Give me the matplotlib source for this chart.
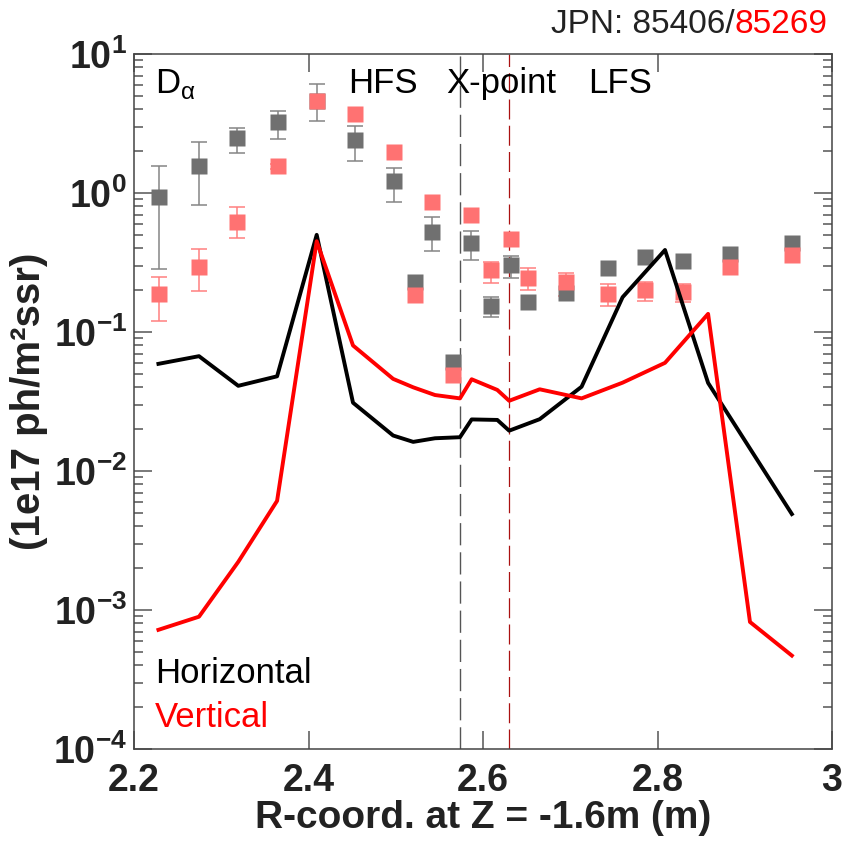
import numpy as np
import matplotlib
matplotlib.use('Agg')
import matplotlib.pyplot as plt
from matplotlib.ticker import FixedLocator, LogLocator, NullFormatter, FixedFormatter

plt.rcParams['font.family'] = ['Liberation Sans', 'DejaVu Sans']
plt.rcParams['mathtext.fontset'] = 'custom'
plt.rcParams['mathtext.rm'] = 'Liberation Sans'
plt.rcParams['mathtext.bf'] = 'Liberation Sans:bold'

# Synthetic D-alpha profiles (lines)
r_line = [2.228, 2.2745, 2.3195, 2.364, 2.4094, 2.451, 2.497, 2.520, 2.545,
          2.5736, 2.587, 2.6164, 2.630, 2.665, 2.713, 2.760, 2.8086, 2.858,
          2.906, 2.954]
horizontal = [0.059, 0.067, 0.041, 0.048, 0.50, 0.031, 0.018, 0.0162, 0.0172,
              0.0175, 0.0235, 0.0233, 0.0195, 0.0236, 0.0404, 0.178, 0.389,
              0.043, 0.0145, 0.0049]
vertical = [0.00072, 0.000895, 0.00222, 0.0061, 0.45, 0.080, 0.046, 0.040,
            0.0352, 0.0333, 0.0457, 0.0383, 0.032, 0.0387, 0.0333, 0.0432,
            0.060, 0.135, 0.00082, 0.00047]

# Measured points
r_pts = [2.229, 2.2745, 2.318, 2.365, 2.410, 2.453, 2.498, 2.522, 2.541, 2.566,
         2.586, 2.609, 2.632, 2.652, 2.695, 2.743, 2.786, 2.829, 2.883, 2.954]
gray_val = [0.93, 1.56, 2.47, 3.23, 4.6, 2.41, 1.21, 0.23, 0.527, 0.061,
            0.435, 0.154, 0.303, 0.164, 0.192, 0.287, 0.348, 0.326, 0.364, 0.435]
gray_lo = [0.283, 0.815, 1.93, 2.43, 3.31, 1.70, 0.857, None, 0.385, None,
           0.33, 0.129, 0.243, None, None, None, None, None, None, None]
gray_hi = [1.57, 2.34, 2.95, 3.91, 6.05, 3.05, 1.52, None, 0.675, None,
           0.533, 0.18, 0.352, None, None, None, None, None, None, None]
pink_val = [0.187, 0.295, 0.622, 1.56, 4.61, 3.68, 1.97, 0.185, 0.866, 0.049,
            0.695, 0.279, 0.464, 0.243, 0.23, 0.187, 0.2, 0.193, 0.295, 0.358]
pink_lo = [0.12, 0.197, 0.472, 1.50, None, None, None, None, None, None,
           None, 0.226, None, 0.2, 0.182, 0.155, 0.167, 0.165, None, None]
pink_hi = [0.25, 0.395, 0.789, 1.62, None, None, None, None, None, None,
           None, 0.32, None, 0.29, 0.267, 0.22, 0.23, 0.22, None, None]

xpoint_h = 2.5736
xpoint_v = 2.630

fig = plt.figure(figsize=(8.44, 8.41), dpi=100)
ax = fig.add_axes([134 / 844, 1 - 749 / 841, 698 / 844, 695 / 841])

GRAY = '#707070'
PINK = '#ff7272'


def errbars(vals, lo, hi, color):
    idx = [i for i in range(len(vals)) if lo[i] is not None]
    x = [r_pts[i] for i in idx]
    y = [vals[i] for i in idx]
    err = [[vals[i] - lo[i] for i in idx], [hi[i] - vals[i] for i in idx]]
    ax.errorbar(x, y, yerr=err, fmt='none', ecolor=color, elinewidth=1.1,
                capsize=6, capthick=1.1, zorder=2)


errbars(gray_val, gray_lo, gray_hi, '#858585')
errbars(pink_val, pink_lo, pink_hi, '#ff8080')
ax.plot(r_pts, gray_val, 's', ms=11.5, color=GRAY, mec='none', zorder=3)
ax.plot(r_pts, pink_val, 's', ms=11.5, color=PINK, mec='none', zorder=4)

ax.plot(r_line, horizontal, color='black', lw=2.8, zorder=5)
ax.plot(r_line, vertical, color='#ff0000', lw=2.8, zorder=5)

ax.axvline(xpoint_h, color='#555555', lw=1.0, ls=(0, (16, 5)), zorder=1)
ax.axvline(xpoint_v, color='#aa1111', lw=0.9, ls=(0, (16, 5)), zorder=1)

ax.set_yscale('log')
ax.set_xlim(2.2, 3.0)
ax.set_ylim(1e-4, 1e1)

ax.xaxis.set_major_locator(FixedLocator([2.2, 2.4, 2.6, 2.8, 3.0]))
ax.set_xticklabels(['2.2', '2.4', '2.6', '2.8', '3'])
ax.yaxis.set_major_locator(FixedLocator([1e-4, 1e-3, 1e-2, 1e-1, 1e0, 1e1]))
ax.yaxis.set_major_formatter(FixedFormatter(
    [r'$\mathbf{10^{-4}}$', r'$\mathbf{10^{-3}}$', r'$\mathbf{10^{-2}}$',
     r'$\mathbf{10^{-1}}$', r'$\mathbf{10^{0}}$', r'$\mathbf{10^{1}}$']))
ax.yaxis.set_minor_locator(LogLocator(base=10, subs=np.arange(2, 10), numticks=20))
ax.yaxis.set_minor_formatter(NullFormatter())

ax.tick_params(axis='both', which='both', direction='in', top=True, right=True,
               color='#555555', width=1.1)
ax.tick_params(axis='both', which='major', length=13, labelsize=27,
               labelcolor='#222222')
ax.tick_params(axis='x', which='major', pad=10)
ax.tick_params(axis='y', which='major', pad=5)
ax.tick_params(axis='y', which='minor', length=6.5)
for lab in ax.get_xticklabels():
    lab.set_fontweight('bold')
for s in ax.spines.values():
    s.set_edgecolor('#444444')
    s.set_linewidth(1.1)

ax.set_xlabel('R-coord. at Z = -1.6m (m)', fontsize=28, fontweight='bold',
              color='#222222', labelpad=1)
ax.set_ylabel('(1e17 ph/m²ssr)', fontsize=29, fontweight='bold',
              color='#222222', labelpad=4)

ax.text(0.03, 0.944, r'D$_{\mathrm{α}}$', transform=ax.transAxes, fontsize=25,
        color='black')
ax.text(0.3066, 0.944, 'HFS', transform=ax.transAxes, fontsize=25, color='black')
ax.text(0.448, 0.944, 'X-point', transform=ax.transAxes, fontsize=25, color='black')
ax.text(0.650, 0.944, 'LFS', transform=ax.transAxes, fontsize=25, color='black')
ax.text(0.030, 0.095, 'Horizontal', transform=ax.transAxes, fontsize=25, color='black')
ax.text(0.030, 0.0315, 'Vertical', transform=ax.transAxes, fontsize=25, color='#ff0000')

t1 = fig.text(0.981, 0.961, '85269', fontsize=24, color='#ff0000', ha='right')
fig.canvas.draw()
bb = t1.get_window_extent()
fig.text(bb.x0 / fig.bbox.width, 0.961, 'JPN: 85406/', fontsize=24,
         color='#222222', ha='right')

fig.savefig('out.png', dpi=100)
